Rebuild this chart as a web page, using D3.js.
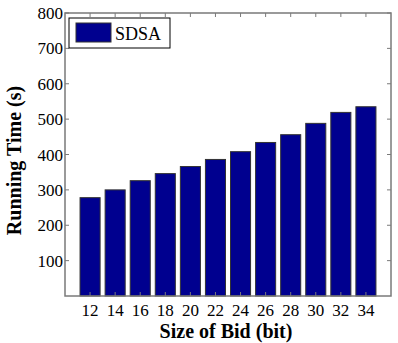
<!DOCTYPE html>
<html lang="en">
<head>
<meta charset="UTF-8">
<title>Running Time vs Size of Bid</title>
<script src="https://d3js.org/d3.v7.min.js"></script>
<style>
  body { margin: 0; background: #fff; }
  svg text { font-family: 'Liberation Serif', 'Times New Roman', serif; fill: #000; }
  .tick-label { font-size: 17px; }
  .axis-title { font-size: 20px; font-weight: bold; }
</style>
</head>
<body>
<svg width="398" height="343"></svg>
<script>
const bidSizes = [12, 14, 16, 18, 20, 22, 24, 26, 28, 30, 32, 34];
const runTimes = [278, 300, 326, 346, 366, 386, 408, 434, 456, 488, 519, 535];
const yTicks = [100, 200, 300, 400, 500, 600, 700, 800];
const seriesName = "SDSA";

const width = 398, height = 343;
const margin = { left: 65, right: 7, top: 13, bottom: 47 };
const plotW = width - margin.left - margin.right;
const plotH = height - margin.top - margin.bottom;

const svg = d3.select("svg");
const g = svg.append("g").attr("transform", `translate(${margin.left},${margin.top})`);

const x = d3.scaleLinear().domain([10, 36]).range([0, plotW]);
const y = d3.scaleLinear().domain([0, 800]).range([plotH, 0]);
const barW = (x(2) - x(0)) * 0.8;

// bars
g.selectAll(".bar")
  .data(bidSizes.map((b, i) => ({ b, v: runTimes[i] })))
  .enter().append("rect")
  .attr("x", d => x(d.b) - barW / 2)
  .attr("y", d => y(d.v))
  .attr("width", barW)
  .attr("height", d => y(0) - y(d.v))
  .attr("fill", "#00008f")
  .attr("stroke", "#333")
  .attr("stroke-width", 1);

// box
const axisColor = "#7a7a7a";
g.append("rect")
  .attr("x", 0).attr("y", 0)
  .attr("width", plotW).attr("height", plotH)
  .attr("fill", "none")
  .attr("stroke", axisColor)
  .attr("stroke-width", 1.5);

// ticks (inward, mirrored)
const tl = 4;
bidSizes.forEach(b => {
  g.append("line").attr("x1", x(b)).attr("x2", x(b)).attr("y1", 0).attr("y2", tl)
    .attr("stroke", axisColor);
  g.append("line").attr("x1", x(b)).attr("x2", x(b)).attr("y1", plotH).attr("y2", plotH - tl)
    .attr("stroke", axisColor);
  g.append("text").attr("class", "tick-label")
    .attr("x", x(b)).attr("y", plotH + 20)
    .attr("text-anchor", "middle")
    .text(b);
});
yTicks.forEach(t => {
  g.append("line").attr("x1", 0).attr("x2", tl).attr("y1", y(t)).attr("y2", y(t))
    .attr("stroke", axisColor);
  g.append("line").attr("x1", plotW).attr("x2", plotW - tl).attr("y1", y(t)).attr("y2", y(t))
    .attr("stroke", axisColor);
  g.append("text").attr("class", "tick-label")
    .attr("x", -2).attr("y", y(t) + 6)
    .attr("text-anchor", "end")
    .text(t);
});

// axis titles
svg.append("text").attr("class", "axis-title")
  .attr("x", margin.left + plotW / 2 - 2).attr("y", 338)
  .attr("text-anchor", "middle")
  .text("Size of Bid (bit)");
svg.append("text").attr("class", "axis-title")
  .attr("transform", `translate(21,${margin.top + plotH / 2 + 6}) rotate(-90)`)
  .attr("text-anchor", "middle")
  .text("Running Time (s)");

// legend
const lg = svg.append("g").attr("transform", "translate(69,18)");
lg.append("rect").attr("width", 101).attr("height", 30)
  .attr("fill", "#fff").attr("stroke", "#000").attr("stroke-width", 1);
lg.append("rect").attr("x", 7).attr("y", 5).attr("width", 35).attr("height", 19)
  .attr("fill", "#00008f").attr("stroke", "#333");
lg.append("text").attr("x", 46).attr("y", 22)
  .style("font-size", "18px")
  .text(seriesName);
</script>
</body>
</html>
